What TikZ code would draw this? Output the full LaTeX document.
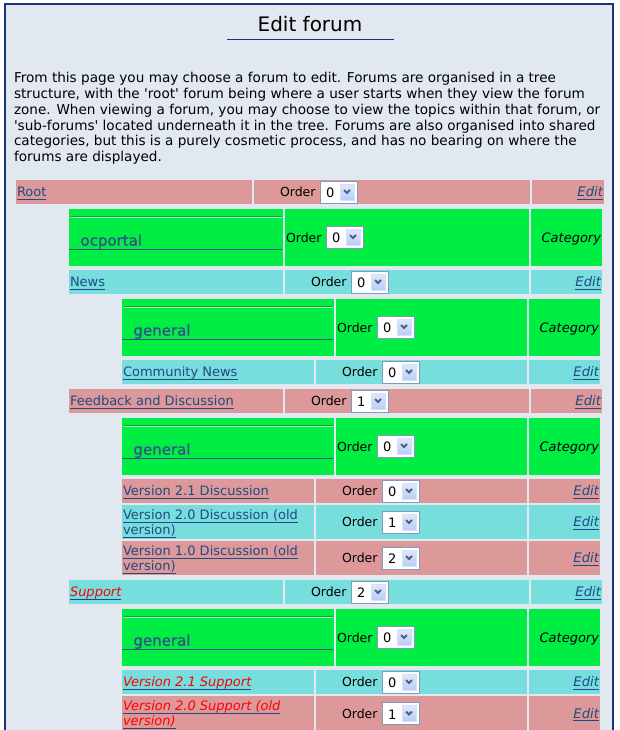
\documentclass[tikz,border=0pt]{standalone}
\usepackage{fontspec}
\setmainfont{DejaVu Sans}
\newfontfamily\catfont{DejaVu Sans}[FakeBold=0.5]
\definecolor{pagebg}{HTML}{E1E8F0}
\definecolor{framecol}{HTML}{17357C}
\definecolor{rowpink}{HTML}{DD9999}
\definecolor{rowcyan}{HTML}{77DDDD}
\definecolor{catgreen}{HTML}{00EE44}
\definecolor{catdark}{HTML}{12A03C}
\definecolor{catlight}{HTML}{A8F5B8}
\definecolor{linkblue}{HTML}{1F4A85}
\definecolor{catblue}{HTML}{3A4C8A}
\definecolor{selframe}{HTML}{7F9DB9}
\definecolor{btnblue}{HTML}{B9CDF6}
\definecolor{chevron}{HTML}{4D6185}

\begin{document}
\begin{tikzpicture}[x=1pt, y=-1pt,
		every node/.style={inner sep=0pt, outer sep=0pt,
				font=\fontsize{13}{15.8}\selectfont},
		ordertext/.style={anchor=base west, font=\fontsize{12.5}{15.8}\selectfont},
		link/.style={anchor=base west, text=linkblue},
		redlink/.style={anchor=base west, text=red,
				font=\fontsize{13}{15.8}\selectfont\itshape},
		editlink/.style={anchor=base east, text=linkblue,
				font=\fontsize{13.2}{15.8}\selectfont\itshape},
		uline/.style={linkblue, line width=1pt},
		selectbox/.pic = {
				\draw[selframe, fill=white] (0,0) rectangle (37,22);
				\shade[top color=btnblue!45!white, bottom color=btnblue,
					draw=btnblue!60!white] (20,3) rectangle (34,19);
				\draw[chevron, line width=1.8pt] (24,9) -- (27,12) -- (30,9);
				\node[anchor=base west] (-val) at (6,16.5) {#1};
			}
	]
	\clip (0,0) rectangle (620,730);
	\fill[pagebg] (5,4) rectangle (613,740);
	\draw[framecol, line width=1.2pt] (5,740) -- (5,4) -- (613,4) -- (613,740);

	% heading
	\node[anchor=base, font=\fontsize{20}{24}\selectfont] (title) at (310,32) {Edit forum};
	\draw[framecol, line width=1.3pt] (227,39.3) -- (394,39.3);

	\foreach \txt [count=\i from 0] in {
			{From this page you may choose a forum to edit. Forums are organised in a tree},
			{structure, with the \textquotesingle root\textquotesingle\ forum being where a user starts when they view the forum},
			{zone. When viewing a forum, you may choose to view the topics within that forum, or},
			{\textquotesingle sub-forums\textquotesingle\ located underneath it in the tree. Forums are also organised into shared},
			{categories, but this is a purely cosmetic process, and has no bearing on where the},
			{forums are displayed.}
		}
		\node[anchor=base west, font=\fontsize{13.6}{15.8}\selectfont]
		(intro\i) at (14,{82.7+15.8*\i}) {\txt};

	% category rows
	\foreach \top/\ca/\cb/\cc/\cd/\txt [count=\r] in {
			209/69/283/529/602/ocportal,
			299/122/334/527/600/general,
			418/122/334/527/600/general,
			609/122/334/527/600/general
		} {
			\fill[catgreen] (\ca,\top) rectangle (\cb,\top+57);
			\fill[catgreen] (\cb+2,\top) rectangle (\cc,\top+57);
			\fill[catgreen] (\cc+2,\top) rectangle (\cd,\top+57);
			\draw[catdark, line width=1pt] (\ca+2,\top+7.5) -- (\cb-1,\top+7.5);
			\draw[catlight, line width=1pt] (\ca+2,\top+8.5) -- (\cb-1,\top+8.5);
			\node[anchor=base west, text=catblue, font=\catfont\fontsize{15}{18}\selectfont]
			(cat\r) at (\ca+11.5,\top+36.7) {\txt};
			\draw[catblue, line width=1.2pt] (\ca,\top+40.5) -- (\cb-1,\top+40.5);
			\node[ordertext] (corder\r) at (\cb+3,\top+33) {Order};
			\pic (csel\r) at (\cb+43,\top+17) {selectbox=0};
			\node[anchor=base east, font=\fontsize{13}{15.8}\selectfont\itshape]
			(ckind\r) at (\cd-1,\top+33) {Category};
		}

	% forum rows, one line
	\foreach \top/\bot/\ca/\cb/\cc/\cd/\bg/\ord/\kind/\txt [count=\r] in {
			180/204/16/252/530/604/rowpink/0/link/Root,
			270/294/69/283/529/602/rowcyan/0/link/News,
			360/384/122/314/527/600/rowcyan/0/link/Community News,
			389/413/69/283/529/602/rowpink/1/link/Feedback and Discussion,
			479/503/122/314/527/600/rowpink/0/link/Version 2.1 Discussion,
			580/604/69/283/529/602/rowcyan/2/redlink/Support,
			670/694/122/314/527/600/rowcyan/0/redlink/Version 2.1 Support
		} {
			\pgfmathsetmacro\mid{(\top+\bot)/2}
			\fill[\bg] (\ca,\top) rectangle (\cb,\bot);
			\fill[\bg] (\cb+2,\top) rectangle (\cc,\bot);
			\fill[\bg] (\cc+2,\top) rectangle (\cd,\bot);
			\node[\kind] (forum\r) at (\ca+1,\mid+4.5) {\txt};
			\draw[uline] ([yshift=-2.5pt]forum\r.base west) -- ([yshift=-2.5pt]forum\r.base east);
			\node[ordertext] (order\r) at (\cb+28,\mid+4.5) {Order};
			\pic (sel\r) at (\cb+68,\mid-11) {selectbox=\ord};
			\node[editlink] (edit\r) at (\cd-1,\mid+4.5) {Edit};
			\draw[uline] ([yshift=-2.5pt]edit\r.base west) -- ([yshift=-2.5pt]edit\r.base east);
		}

	% forum rows, two lines
	\foreach \top/\bot/\bg/\ord/\kind/\txt/\txtb [count=\r] in {
			505/539/rowcyan/1/link/{Version 2.0 Discussion (old}/{version)},
			541/575/rowpink/2/link/{Version 1.0 Discussion (old}/{version)},
			696/731/rowpink/1/redlink/{Version 2.0 Support (old}/{version)}
		} {
			\pgfmathsetmacro\mid{(\top+\bot)/2}
			\fill[\bg] (122,\top) rectangle (314,\bot);
			\fill[\bg] (316,\top) rectangle (527,\bot);
			\fill[\bg] (529,\top) rectangle (600,\bot);
			\node[\kind] (old\r) at (123,\top+14.5) {\txt};
			\node[\kind] (oldb\r) at (123,\top+29.5) {\txtb};
			\draw[uline] ([yshift=-2.5pt]old\r.base west) -- ([yshift=-2.5pt]old\r.base east);
			\draw[uline] ([yshift=-2.5pt]oldb\r.base west) -- ([yshift=-2.5pt]oldb\r.base east);
			\node[ordertext] (oorder\r) at (342,\mid+4.5) {Order};
			\pic (osel\r) at (382,\mid-11) {selectbox=\ord};
			\node[editlink] (oedit\r) at (599,\mid+4.5) {Edit};
			\draw[uline] ([yshift=-2.5pt]oedit\r.base west) -- ([yshift=-2.5pt]oedit\r.base east);
		}
\end{tikzpicture}
\end{document}
